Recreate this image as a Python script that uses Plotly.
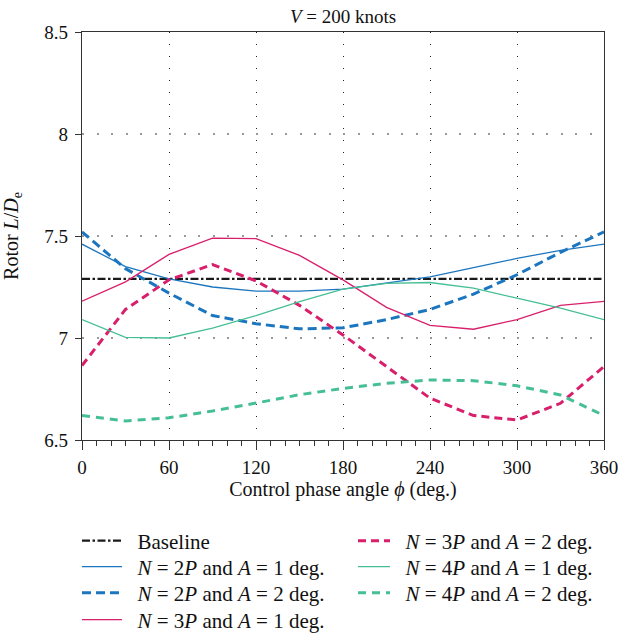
import plotly.graph_objects as go

phi = [0, 30, 60, 90, 120, 150, 180, 210, 240, 270, 300, 330, 360]
baseline = [7.29] * 13
n2p_a1 = [7.46, 7.35, 7.29, 7.25, 7.23, 7.23, 7.24, 7.27, 7.30, 7.345, 7.39, 7.43, 7.46]
n2p_a2 = [7.52, 7.34, 7.22, 7.11, 7.07, 7.045, 7.05, 7.09, 7.14, 7.215, 7.31, 7.42, 7.52]
n3p_a1 = [7.18, 7.275, 7.41, 7.49, 7.487, 7.405, 7.285, 7.15, 7.062, 7.043, 7.09, 7.16, 7.18]
n3p_a2 = [6.865, 7.14, 7.285, 7.36, 7.28, 7.16, 7.015, 6.86, 6.705, 6.62, 6.598, 6.68, 6.86]
n4p_a1 = [7.09, 7.003, 7.0, 7.048, 7.11, 7.178, 7.24, 7.268, 7.272, 7.244, 7.195, 7.146, 7.09]
n4p_a2 = [6.62, 6.593, 6.609, 6.642, 6.681, 6.722, 6.753, 6.778, 6.794, 6.791, 6.766, 6.721, 6.62]

names = [
    "Baseline",
    "<i>N</i> = 2<i>P</i> and <i>A</i> = 1 deg.",
    "<i>N</i> = 2<i>P</i> and <i>A</i> = 2 deg.",
    "<i>N</i> = 3<i>P</i> and <i>A</i> = 1 deg.",
    "<i>N</i> = 3<i>P</i> and <i>A</i> = 2 deg.",
    "<i>N</i> = 4<i>P</i> and <i>A</i> = 1 deg.",
    "<i>N</i> = 4<i>P</i> and <i>A</i> = 2 deg.",
]

BLUE = "#1c76bf"
PINK = "#d81f6b"
GREEN = "#45bf93"
FONT = "Liberation Serif, Times New Roman, Times, serif"

# (name, values, colour, width, dash, legend column, legend row)
series = [
    (names[0], baseline, "#1a1a1a", 2.4, "8px,2.5px,2.5px,2.5px", 0, 0),
    (names[1], n2p_a1, BLUE, 1.3, "solid", 0, 1),
    (names[2], n2p_a2, BLUE, 3, "9px,5px", 0, 2),
    (names[3], n3p_a1, PINK, 1.3, "solid", 0, 3),
    (names[4], n3p_a2, PINK, 3, "8px,5px", 1, 0),
    (names[5], n4p_a1, GREEN, 1.3, "solid", 1, 1),
    (names[6], n4p_a2, GREEN, 3, "8px,6px", 1, 2),
]

PLOT_L, PLOT_R, PLOT_T, PLOT_B = 82, 604, 32, 440
col_px = [77, 353]
col_itemwidth = [40, 32]
row_px = [541, 567, 593, 620]

fig = go.Figure()
legends = {}
for i, (name, ys, color, w, dash, col, row) in enumerate(series):
    lid = "legend" if i == 0 else f"legend{i + 1}"
    fig.add_trace(go.Scatter(
        x=phi, y=ys, mode="lines", name="\u00a0\u00a0" + name,
        line=dict(color=color, width=w, dash=dash),
        legend=lid, showlegend=True,
    ))
    legends[lid] = dict(
        x=(col_px[col] - PLOT_L) / (PLOT_R - PLOT_L), xanchor="left",
        y=(PLOT_B - row_px[row]) / (PLOT_B - PLOT_T), yanchor="middle",
        itemwidth=col_itemwidth[col], bgcolor="rgba(0,0,0,0)", borderwidth=0,
        font=dict(family=FONT, size=21, color="#111"),
    )

fig.update_layout(
    width=621, height=640,
    margin=dict(l=PLOT_L, r=621 - PLOT_R, t=PLOT_T, b=640 - PLOT_B, autoexpand=False),
    plot_bgcolor="white", paper_bgcolor="white",
    showlegend=True,
    font=dict(family=FONT, size=19, color="#111"),
    title=dict(text="<i>V</i> = 200 knots", x=(PLOT_L + PLOT_R) / 2 / 621, xanchor="center",
               y=0.975, yanchor="middle", font=dict(family=FONT, size=19)),
    **legends,
)

fig.update_xaxes(
    range=[0, 360], tickvals=[0, 60, 120, 180, 240, 300, 360],
    automargin=False,
    ticks="outside", ticklen=9, tickwidth=1.3, tickcolor="#333",
    ticklabelstandoff=1, ticklabeloverflow="allow",
    tickfont=dict(family=FONT, size=19),
    minor=dict(dtick=10, ticks="outside", ticklen=5, tickwidth=1, tickcolor="#333", showgrid=False),
    showline=True, linecolor="#333", linewidth=1.3, mirror=True,
    showgrid=True, gridcolor="#222", gridwidth=1, griddash="1px,11px",
    zeroline=False,
    title=dict(text="Control phase angle <i>ϕ</i> (deg.)", standoff=5,
               font=dict(family=FONT, size=20)),
)
fig.update_yaxes(
    range=[6.5, 8.5], tickvals=[6.5, 7, 7.5, 8, 8.5], ticktext=["6.5", "7", "7.5", "8", "8.5"],
    automargin=False,
    ticks="outside", ticklen=6, tickwidth=1.3, tickcolor="#333",
    ticklabelstandoff=3, tickfont=dict(family=FONT, size=19),
    showline=True, linecolor="#333", linewidth=1.3, mirror=True,
    showgrid=True, gridcolor="#999", gridwidth=1.6, griddash="2px,12.5px",
    zeroline=False,
    title=dict(text="Rotor <i>L</i>/<i>D</i><sub>e</sub>", standoff=20,
               font=dict(family=FONT, size=20)),
)

fig.write_html("out.html", config={"displayModeBar": False},
               post_script="document.body.style.margin='0';")
